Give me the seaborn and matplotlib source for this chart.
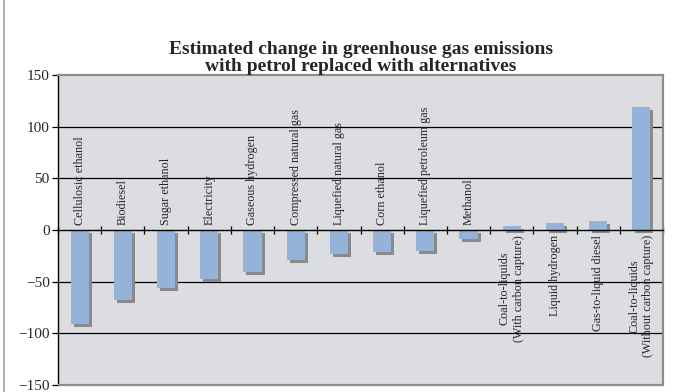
import matplotlib
matplotlib.use("Agg")
import matplotlib.pyplot as plt
import matplotlib.transforms as mtransforms
from matplotlib.lines import Line2D
from matplotlib.patches import Rectangle
import seaborn as sns
import pandas as pd

# Fuel alternatives and their estimated change in emissions (%)
fuels = [
    "Cellulosic ethanol",
    "Biodiesel",
    "Sugar ethanol",
    "Electricity",
    "Gaseous hydrogen",
    "Compressed natural gas",
    "Liquefied natural gas",
    "Corn ethanol",
    "Liquefied petroleum gas",
    "Methanol",
    "Coal-to-liquids\n(With carbon capture)",
    "Liquid hydrogen",
    "Gas-to-liquid diesel",
    "Coal-to-liquids\n(Without carbon capture)",
]
change = [-91, -68, -56, -47, -41, -29, -23, -21, -20, -9, 3.5, 6.5, 8.5, 119]
y_ticks = [-150, -100, -50, 0, 50, 100, 150]

title = ("Estimated change in greenhouse gas emissions\n"
         "with petrol replaced with alternatives")

df = pd.DataFrame({"fuel": fuels, "change": change})

sns.set_style("white")
serif = ["Liberation Serif", "DejaVu Serif"]
plt.rcParams["font.family"] = serif

BAR = "#95b3d8"
SHADOW = "#8a8a8a"
PLOT_BG = "#dcdde0"
FRAME = "#8c8c8c"

fig = plt.figure(figsize=(6.79, 3.92), dpi=100)
fig.patch.set_facecolor("white")
ax = fig.add_axes([58 / 679, 1 - 385 / 392, (663 - 58) / 679, (385 - 75) / 392])
ax.set_facecolor(PLOT_BG)

# drop shadow: same bars, shifted right and down a few pixels
sns.barplot(data=df, x="fuel", y="change", color=SHADOW, saturation=1,
            width=0.42, ax=ax, zorder=2)
shadow_tf = mtransforms.offset_copy(ax.transData, fig=fig, x=3, y=-3, units="dots")
for p in ax.containers[0]:
    p.set_transform(shadow_tf)
    p.set_linewidth(0)

sns.barplot(data=df, x="fuel", y="change", color=BAR, saturation=1,
            width=0.42, ax=ax, zorder=3)
for p in ax.containers[1]:
    p.set_linewidth(0)

n = len(fuels)
ax.set_xlim(-0.5, n - 0.5)
ax.set_ylim(-150, 150)
ax.set_xlabel("")
ax.set_ylabel("")

# horizontal gridlines
for v in y_ticks:
    if v not in (0, 150, -150):
        ax.axhline(v, color="black", lw=0.9, zorder=1)

# y axis
ax.set_yticks(y_ticks)
ax.set_yticklabels([str(v).replace("-", "\u2212") for v in y_ticks], fontsize=11)
ax.tick_params(axis="y", direction="out", length=4, width=0.9, color="black",
               pad=2, left=True)

# category axis runs along zero with ticks at category boundaries
ax.spines["bottom"].set_position(("data", 0))
ax.spines["bottom"].set_color("black")
ax.spines["bottom"].set_linewidth(1.0)
ax.spines["bottom"].set_zorder(4)
ax.set_xticks([i - 0.5 for i in range(n + 1)])
ax.set_xticklabels([])
ax.tick_params(axis="x", direction="inout", length=6, width=0.9, color="black",
               bottom=True)

ax.spines["left"].set_color("black")
ax.spines["left"].set_linewidth(1.0)
for s in ("top", "right"):
    ax.spines[s].set_color(FRAME)
    ax.spines[s].set_linewidth(1.6)
ax.add_patch(Rectangle((0, 0), 1, 0, transform=ax.transAxes, fill=False,
                       edgecolor=FRAME, lw=1.6, clip_on=False, zorder=5))

# category names written beside the zero line, away from the bar
for i, (name, val) in enumerate(zip(fuels, change)):
    if val < 0:
        ax.annotate(name, xy=(i, 0), xytext=(0, 3.6), textcoords="offset points",
                    rotation=90, ha="center", va="bottom", fontsize=8.7,
                    multialignment="center", zorder=6)
    else:
        ax.annotate(name, xy=(i, 0), xytext=(0, -3.6), textcoords="offset points",
                    rotation=90, ha="center", va="top", fontsize=8.7,
                    multialignment="center", zorder=6)

fig.text(361 / 679, 1 - 58 / 392, title, ha="center", va="center",
         fontsize=14, fontweight="bold", linespacing=0.95, family=serif)

# chart area edge
fig.add_artist(Line2D([4 / 679, 4 / 679], [0, 1], transform=fig.transFigure,
                      color="#a0a0a0", lw=1.2))

fig.savefig("out.png", dpi=100)
